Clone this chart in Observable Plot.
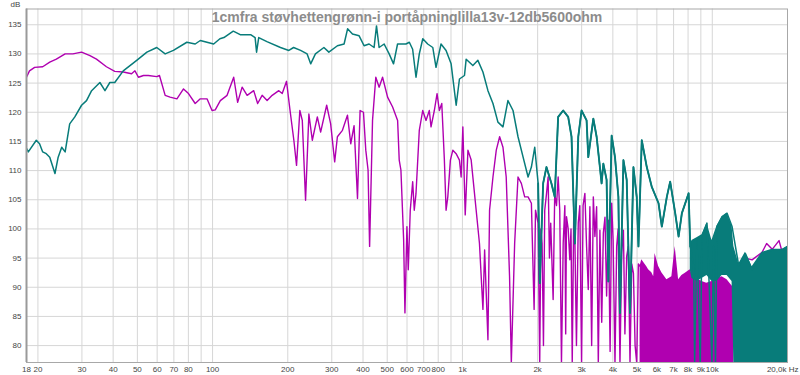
<!DOCTYPE html>
<html><head><meta charset="utf-8">
<script src="https://cdn.jsdelivr.net/npm/d3@7"></script>
<script src="https://cdn.jsdelivr.net/npm/@observablehq/plot@0.6"></script>
<style>
body{margin:0;background:#fff;}
#chart svg{display:block;}
</style>
</head><body><div id="chart"></div>
<script>
const titleText = "1cmfra støvhettengrønn-i portåpninglilla13v-12db5600ohm";
const yUnit = "dB";

// Green (teal) trace
const tealFreq = [18,18.3,19.7,20.3,20.9,21.6,22.3,23.4,24.1,24.9,25.7,26.8,28.1,29.9,31.3,32.8,35.4,37.1,38.8,40.6,43.9,49.7,54.6,59.8,64.6,69.7,78.9,85.2,89.3,101,107,111,121,129,142,148,150,153,165,187,202,211,225,239,247,258,279,292,316,336,347,363,386,404,423,443,453,464,486,509,530,550,594,613,632,652,672,694,726,761,784,821,860,901,944,973,1019,1035,1101,1153,1208,1265,1325,1387,1453,1521,1594,1669,1749,1831,1888,1947,2009,2039,2104,2169,2271,2341,2416,2531,2650,2733,2818,2908,2998,3140,3189,3341,3444,3550,3606,3664,3776,3837,3956,4079,4209,4271,4409,4544,4685,4835,4984,5064,5221,5468,5727,6094,6281,6578,6783,7104,7331,7557,8041,8161,8423,8500,8682,8950,9093,9523,9970,10100,10300,10440,10940,11460,12000,12770,13570,14430,15830,17370,19050,20000];
const tealDb   = [113.8,113.2,115.2,114.6,113.2,112.9,112.3,109.5,112.3,114.0,113.2,118.0,119.2,121.2,122.0,123.7,125.1,123.7,125.1,125.1,127.1,128.9,130.3,131.1,130.0,130.6,132.0,131.7,132.3,131.7,132.6,132.8,133.9,133.3,133.3,132.8,130.3,132.8,132.1,131.1,130.6,131.1,130.6,130.0,128.3,130.0,131.1,130.3,131.4,131.7,134.3,133.4,133.1,131.4,131.7,131.1,134.8,131.1,131.7,130.0,128.3,131.7,131.7,132.0,130.8,126.0,130.0,132.6,131.7,131.1,127.7,131.7,130.6,128.3,121.2,125.7,126.3,129.1,128.0,128.9,126.9,123.7,121.5,118.3,117.5,122.0,120.3,115.8,112.3,108.9,110.6,114.0,107.8,90.7,107.8,110.6,107.8,105.5,119.2,120.3,119.2,115.8,97.5,115.8,120.3,118.6,112.3,118.9,115.8,110.6,107.8,111.2,108.4,91,116.0,112.3,105.5,85.6,111.8,108.4,85.6,110.6,105.5,97.0,115.2,110.6,107.2,104.4,100.4,105.5,108.1,102.7,98.7,102.7,106.1,97.0,93.6,77,98.1,77,98.7,101.0,77,97,77,100.4,102.1,102.7,100.4,93.6,95.8,93.0,95.8,96.4,96.4,97.0];

// Teal noisy band above 8 kHz (upper / lower envelope)
const tealBandFreq   = [8161,8290,8682,9093,9523,9970,10440,10940,11460,12000,12200,12770,13570,14430,15830,17370,19050,20000];
const tealBandTop    = [97,98,98.5,99,101,98,100.5,102,102.7,100.5,97,94,96,93.5,96,96.5,96.5,97];
const tealBandBottom = [93,91.5,91,91.5,92,91,91,92,92,91,77,77,77,77,77,77,77,77];

// Purple (magenta) trace
const magentaFreq = [18,18.5,19.4,20.9,22.3,23.7,25.7,27.6,29.9,32.3,34.3,37.6,40.6,43.9,47.4,48.9,50.5,52.9,55.3,59.8,61.3,64.6,67.6,72.0,76.5,80.1,85.2,89.3,95.0,99.5,102.5,107.4,114.3,121.5,126.0,131.3,137.5,146.1,151.5,157.9,165.3,173.2,184.1,190,197.7,203.8,211.5,216.8,223.5,228.6,235.6,242.9,250.7,262.6,270.7,286.2,296.9,308.1,315.9,330.9,346.6,357.3,368.4,380.2,389.4,401.7,410.4,419.1,425.1,436.7,450.1,464.1,479.0,501.7,525.5,550.3,558.5,567.3,581.7,588.7,599.6,607,618.3,632.3,641.6,651.7,672,693.5,714.9,737,748.7,771.9,791.5,808.5,826.7,846.7,860.2,873.9,895,915.4,943.5,972.8,988.2,1004,1026,1052,1084,1135,1170,1208,1227,1265,1284,1325,1366,1409,1453,1497,1544,1569,1618,1669,1721,1775,1831,1888,1936,1961,2009,2039,2060,2084,2110,2135,2170,2203,2230,2256,2307,2341,2380,2416,2452,2491,2531,2570,2590,2609,2650,2690,2720,2751,2790,2818,2860,2908,2950,2998,3040,3091,3140,3189,3237,3290,3341,3390,3444,3498,3550,3610,3664,3720,3776,3837,3900,3956,4010,4079,4143,4200,4271,4340,4409,4470,4544,4610,4685,4760,4835,4910,4984,5060,5140];
const magentaDb   = [126.0,127.1,127.7,127.8,128.6,129.1,130.0,130.0,130.3,129.7,129.1,127.8,127.0,126.9,126.6,127.1,126.0,126.3,126.3,126.1,126.3,122.9,122.6,122.3,124.0,123.2,121.5,122.3,122.3,120.3,120.4,122.0,122.9,126.0,121.7,124.3,122.9,123.7,121.5,122.9,122.0,122.9,123.7,123.2,125.3,120.6,115.2,110.9,120.3,118.6,104.9,119.7,115.2,119.2,116.6,121.2,118.0,111.5,115.8,116.9,119.5,114.6,117.7,105.2,120.3,120.0,113.5,110.1,97.0,118.6,126.0,124.3,126.0,122.6,120.9,118.6,111.8,110.1,98.1,85.6,100.4,93.0,103.2,108.1,103.2,106.0,116.9,120.3,118.6,120.3,117.5,120.3,123.2,120.3,121.5,111.8,103.2,105.5,111.8,113.5,112.9,111.8,108.9,117.5,102.4,113.5,111.8,103.2,97.5,86.2,96.4,81.0,103.2,108.9,113.5,115.8,114.0,108.9,91.8,77,97.5,108.9,107.8,105.5,105.5,104.4,86.2,103.2,101.0,77,100,97.5,80,103.2,106,108.9,95,101.0,87.9,106.0,104,108.9,103.2,77,97.5,104,82,102.1,100,94.7,100,77,103,98.7,80,101.0,104,77,104,106.1,97.0,89.6,103.8,80,105.5,98.7,103.8,77,99.8,84,99.3,102,88.5,101.5,79,104.4,98,77,97.0,100,77,96,99.8,82,95.3,97,77,94,92.4,80,77,94,93.6];

// Magenta dense region: upper envelope (filled to the bottom)
const magentaFillFreq = [5140,5221,5468,5560,5727,5828,5900,6094,6281,6580,6890,7104,7331,7557,7800,8161,8423,9093,9500,9970,10440,10940,11460,12000,12200];
const magentaFillTop  = [93.6,94.7,93.5,93.0,92.5,91.8,95.8,93.6,92.5,91.3,91.8,97.0,91.3,92.0,92.4,93.0,91.8,91.0,90.7,91.0,91.5,91.8,91.3,90.2,90.0];

// Magenta above 12 kHz (mostly behind teal)
const magentaHiFreq = [12200,12500,12770,13570,14430,15830,16500,17370,18500,19050,20000];
const magentaHiDb   = [90.0,94.0,94.0,95.0,94.7,96.0,97.5,96.5,98.0,96.0,97.0];

// Axes
const yTicks = [80,85,90,95,100,105,110,115,120,125,130,135];
const gridX = [20,30,40,50,60,70,80,90,100,200,300,400,500,600,700,800,900,1000,2000,3000,4000,5000,6000,7000,8000,9000,10000];
const xTickValues = [18,20,30,40,50,60,70,80,100,200,300,400,500,600,700,800,1000,2000,3000,4000,5000,6000,7000,8000,9000,10000];
const xTickLabels = ["18","20","30","40","50","60","70","80","100","200","300","400","500","600","700","800","1k","2k","3k","4k","5k","6k","7k","8k","9k","10k"];
const xEndValue = 20000;
const xEndLabel = "20,0k Hz";

const teal = tealFreq.map((f, i) => ({f, db: tealDb[i]}));
const tealNoisy = teal.filter(d => d.f >= 1950 && d.f <= 8300);
const tealBand = tealBandFreq.map((f, i) => ({f, top: tealBandTop[i], bottom: tealBandBottom[i]}));
const magenta = magentaFreq.map((f, i) => ({f, db: magentaDb[i]}));
const magentaFill = magentaFillFreq.map((f, i) => ({f, top: magentaFillTop[i]}));
const magentaHi = magentaHiFreq.map((f, i) => ({f, db: magentaHiDb[i]}));
const xTicks = xTickValues.map((v, i) => ({v, label: xTickLabels[i]}));

const yMin = 77.1, yMax = 137.7;
const TEAL = "#087c7a", MAG = "#b000b0";

const chart = Plot.plot({
  width: 800, height: 375,
  marginLeft: 26, marginRight: 13, marginTop: 8.5, marginBottom: 13,
  style: {fontFamily: "'Liberation Sans', Arial, sans-serif", background: "#fff"},
  x: {type: "log", domain: [18, 20000], axis: null},
  y: {domain: [yMin, yMax], axis: null},
  marks: [
    Plot.ruleX(gridX, {stroke: "#d6d6d6", strokeWidth: 1}),
    Plot.ruleY(yTicks, {stroke: "#d6d6d6", strokeWidth: 1}),
    Plot.areaY(magentaFill, {x: "f", y1: yMin, y2: "top", fill: MAG, clip: true}),
    Plot.line(magenta, {x: "f", y: "db", stroke: MAG, strokeWidth: 1.4, clip: true}),
    Plot.line(magentaHi, {x: "f", y: "db", stroke: MAG, strokeWidth: 1.4, clip: true}),
    Plot.areaY(tealBand, {x: "f", y1: "bottom", y2: "top", fill: TEAL, clip: true}),
    Plot.line(teal, {x: "f", y: "db", stroke: TEAL, strokeWidth: 1.5, clip: true}),
    Plot.line(tealNoisy, {x: "f", y: "db", stroke: TEAL, strokeWidth: 1.9, clip: true}),
    Plot.frame({stroke: "#a8a8a8"}),
    Plot.ruleX([18], {stroke: "#9a9a9a", strokeWidth: 2}),
    Plot.text([titleText], {frameAnchor: "top", dy: 9, lineAnchor: "middle", fontSize: 14, fontWeight: "bold", fill: "#8c8c8c"}),
    Plot.text([yUnit], {frameAnchor: "top-left", dx: -11, dy: -4.5, textAnchor: "middle", lineAnchor: "middle", fontSize: 8, fill: "#444"}),
    Plot.text(yTicks, {y: d => d, text: d => String(d), frameAnchor: "left", dx: -5, textAnchor: "end", lineAnchor: "middle", fontSize: 8, fill: "#444"}),
    Plot.text(xTicks, {x: "v", text: "label", frameAnchor: "bottom", dy: 6.5, textAnchor: "middle", lineAnchor: "middle", fontSize: 8, fill: "#444"}),
    Plot.text([xEndLabel], {x: () => xEndValue, frameAnchor: "bottom", dx: 11, dy: 6.5, textAnchor: "end", lineAnchor: "middle", fontSize: 8, fill: "#444"})
  ]
});
document.getElementById("chart").appendChild(chart);
</script>
</body></html>
